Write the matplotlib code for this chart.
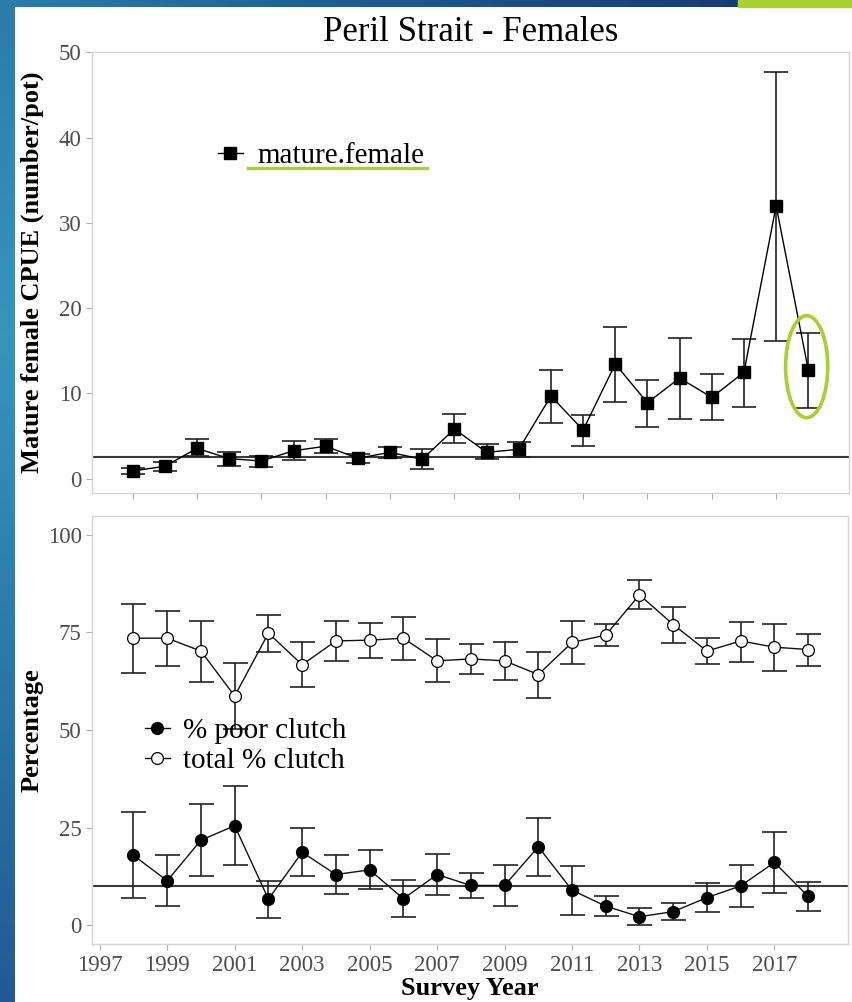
import numpy as np
import matplotlib
matplotlib.use('Agg')
import matplotlib.pyplot as plt
from matplotlib.patches import Ellipse
from matplotlib.lines import Line2D
from matplotlib.colors import LinearSegmentedColormap

plt.rcParams['font.family'] = ['Liberation Serif', 'DejaVu Serif']

# CPUE panel (top) - mature females
cpue_years = list(range(1997, 2019))
cpue = [0.9, 1.45, 3.56, 2.35, 2.07, 3.28, 3.8, 2.39, 3.09, 2.27, 5.82,
        3.09, 3.44, 9.69, 5.7, 13.44, 8.9, 11.8, 9.53, 12.47, 32.0, 12.74]
cpue_lo = [0.55, 0.95, 2.66, 1.5, 1.4, 2.2, 3.0, 1.8, 2.4, 1.17, 4.15,
           2.35, 2.58, 6.57, 3.83, 9.02, 6.1, 7.03, 6.88, 8.44, 16.17, 8.32]
cpue_hi = [1.2, 1.9, 4.6, 3.1, 2.7, 4.45, 4.7, 2.9, 3.75, 3.44, 7.58,
           4.03, 4.34, 12.74, 7.43, 17.78, 11.6, 16.45, 12.27, 16.37, 47.7, 17.07]
cpue_ref = 2.5

# clutch panel (bottom)
clutch_years = list(range(1998, 2019))
total_clutch = [73.5, 73.5, 70.2, 58.7, 74.8, 66.7, 72.8, 73.0, 73.5, 67.7, 68.2,
                67.7, 64.2, 72.4, 74.3, 84.6, 77.0, 70.2, 72.8, 71.2, 70.6]
total_lo = [64.6, 66.3, 62.3, 50.2, 70.0, 61.0, 67.6, 68.5, 67.9, 62.2, 64.4,
            62.8, 58.1, 66.8, 71.6, 81.0, 72.3, 66.8, 67.5, 65.2, 66.5]
total_hi = [82.3, 80.5, 78.0, 67.2, 79.4, 72.5, 77.8, 77.5, 78.8, 73.2, 72.1,
            72.5, 70.0, 77.9, 77.1, 88.3, 81.5, 73.6, 77.7, 77.1, 74.5]
poor_clutch = [17.9, 11.4, 21.8, 25.5, 6.7, 18.7, 13.0, 14.2, 6.8, 13.0, 10.2,
               10.2, 20.1, 9.0, 4.9, 2.2, 3.5, 7.1, 10.1, 16.1, 7.4]
poor_lo = [6.9, 4.9, 12.6, 15.4, 2.0, 12.5, 7.9, 9.2, 2.2, 7.7, 7.1,
           5.0, 12.7, 2.7, 2.3, 0.0, 1.4, 3.4, 4.8, 8.4, 3.7]
poor_hi = [29.1, 17.9, 31.0, 35.7, 11.4, 24.8, 18.0, 19.2, 11.6, 18.2, 13.5,
           15.5, 27.6, 15.3, 7.4, 4.4, 5.8, 10.8, 15.5, 23.8, 11.2]
poor_ref = 10

year_ticks = list(range(1997, 2018, 2))

W, H = 852, 1002
fig = plt.figure(figsize=(W / 100, H / 100), dpi=100)

# slide decoration: blue stripe on left, bar on top
grad = np.linspace(0, 1, 256).reshape(-1, 1)
stripe = fig.add_axes([0, 0, 15 / W, 1], zorder=-5)
cm_v = LinearSegmentedColormap.from_list('v', ['#2b7cab', '#3696ba', '#2a78a8', '#225a93'])
stripe.imshow(grad, aspect='auto', cmap=cm_v, extent=[0, 1, 0, 1], origin='upper')
stripe.axis('off')
bar = fig.add_axes([0, 1 - 7 / H, 738 / W, 7 / H], zorder=-5)
cm_h = LinearSegmentedColormap.from_list('h', ['#2b7dab', '#1f5b8f', '#153d74'])
bar.imshow(grad.T, aspect='auto', cmap=cm_h, extent=[0, 1, 0, 1])
bar.axis('off')
fig.patches.append(plt.Rectangle((738 / W, 1 - 7 / H), 1 - 738 / W, 7 / H,
                                 transform=fig.transFigure, color='#a8d233', zorder=-5))

border = '#d4d4d4'
tick_col = '#4d4d4d'


def style(ax):
    for s in ax.spines.values():
        s.set_color(border)
        s.set_linewidth(1.0)
    ax.tick_params(colors='#b0b0b0', labelcolor=tick_col, labelsize=16.5,
                   length=4, width=0.8)


# ---- top panel
ax1 = fig.add_axes([92 / W, 1 - 493 / H, (849 - 92) / W, (493 - 52) / H])
style(ax1)
cpue = np.array(cpue)
ax1.axhline(cpue_ref, color='#3a3a3a', lw=1.5, zorder=1)
ax1.errorbar(cpue_years, cpue,
             yerr=[cpue - np.array(cpue_lo), np.array(cpue_hi) - cpue],
             fmt='none', ecolor='#222222', elinewidth=1.2, capsize=8.5, capthick=1.2, zorder=2)
ax1.plot(cpue_years, cpue, color='black', lw=1.0, marker='s', ms=8,
         mfc='black', mec='black', label='mature.female', zorder=3)
ax1.set_xlim(1995.735, 2019.265)
ax1.set_ylim(-1.68, 50.03)
ax1.set_yticks([0, 10, 20, 30, 40, 50])
ax1.set_xticks(year_ticks)
ax1.set_xticklabels([])
ax1.set_ylabel('Mature female CPUE (number/pot)', fontsize=19, fontweight='bold')
ax1.yaxis.set_label_coords((44 - 92) / (849 - 92), 0.5)
ax1.set_title('Peril Strait - Females', fontsize=25, pad=8)
ax1.legend(loc='center left', bbox_to_anchor=(218 / W, 1 - 156 / H),
           bbox_transform=fig.transFigure, frameon=False, fontsize=21,
           handlelength=0.85, handletextpad=0.5, borderpad=0, borderaxespad=0)

# green highlight around last point
ell = Ellipse((2017.95, 13.13), width=1.31, height=11.96, fill=False,
              edgecolor='#a6d12f', lw=2.6, zorder=5)
ax1.add_patch(ell)
fig.add_artist(Line2D([248 / W, 427 / W], [1 - 167.5 / H, 1 - 167.5 / H],
                      transform=fig.transFigure, color='#a6d12f', lw=2.4))

# ---- bottom panel
ax2 = fig.add_axes([92 / W, 1 - 944.3 / H, (848.3 - 92) / W, (944.3 - 515.7) / H])
style(ax2)
total_clutch = np.array(total_clutch)
poor_clutch = np.array(poor_clutch)
ax2.axhline(poor_ref, color='#3a3a3a', lw=1.5, zorder=1)
ax2.errorbar(clutch_years, poor_clutch,
             yerr=[poor_clutch - np.array(poor_lo), np.array(poor_hi) - poor_clutch],
             fmt='none', ecolor='#222222', elinewidth=1.2, capsize=9, capthick=1.2, zorder=2)
ax2.errorbar(clutch_years, total_clutch,
             yerr=[total_clutch - np.array(total_lo), np.array(total_hi) - total_clutch],
             fmt='none', ecolor='#222222', elinewidth=1.2, capsize=9, capthick=1.2, zorder=2)
ax2.plot(clutch_years, poor_clutch, color='#111111', lw=1.0, marker='o', ms=8.5,
         mfc='black', mec='black', label='% poor clutch', zorder=3)
ax2.plot(clutch_years, total_clutch, color='#111111', lw=1.0, marker='o', ms=8.5,
         mfc='white', mec='black', mew=0.9, label='total % clutch', zorder=3)
ax2.set_xlim(1996.77, 2019.19)
ax2.set_ylim(-4.86, 104.86)
ax2.set_yticks([0, 25, 50, 75, 100])
ax2.set_xticks(year_ticks)
ax2.set_ylabel('Percentage', fontsize=19, fontweight='bold')
ax2.yaxis.set_label_coords((44 - 92) / (848.3 - 92), 0.5)
ax2.set_xlabel('Survey Year', fontsize=19, fontweight='bold', labelpad=1)
ax2.legend(loc='upper left', bbox_to_anchor=(145 / W, 1 - 718 / H),
           bbox_transform=fig.transFigure, frameon=False, fontsize=21,
           handlelength=0.85, handletextpad=0.45, borderpad=0, borderaxespad=0,
           labelspacing=0.12)

fig.savefig('out.png', dpi=100)
